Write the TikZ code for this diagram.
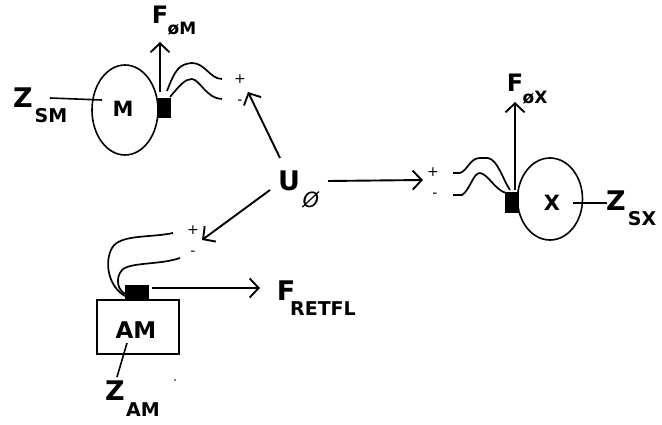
\documentclass[tikz,border=0pt]{standalone}
\usepackage{fontspec}
\setmainfont{DejaVu Sans}
\usetikzlibrary{arrows.meta,shapes.geometric}
\begin{document}
\begin{tikzpicture}[x=1pt,y=-1pt,line width=1.9pt,
  big/.style={inner sep=0pt,font=\bfseries\fontsize{27}{27}\selectfont},
  mid/.style={inner sep=0pt,font=\bfseries\fontsize{21}{21}\selectfont},
  sub/.style={inner sep=0pt,font=\bfseries\fontsize{19}{19}\selectfont},
  pm/.style={inner sep=0pt,font=\fontsize{14}{14}\selectfont},
  arr/.style={-{Straight Barb[length=9pt,width=19pt,line width=1.9pt]}},
  wire/.style={line width=1.7pt},
  blk/.style={fill=black,draw=black,line width=0.5pt,inner sep=0pt},
  body/.style={draw,line width=1.6pt,ellipse,inner sep=0pt}]
\useasboundingbox (0,0) rectangle (662,425);

% ---------- motor M ----------
\node[body,minimum width=66pt,minimum height=90pt] (Mell) at (125,110) {};
\node[mid] (Mlab) at (123,109) {M};
\node[big] (Zsm) at (23,98) {Z};
\node[sub] (Zsmsub) at (51,116) {SM};
\coordinate (zsmA) at (50,98);
\coordinate (zsmB) at (102,100);
\draw[line width=1.6pt] (zsmA) -- (zsmB);
\node[blk,minimum width=12pt,minimum height=19pt] (bM) at (164,107.5) {};
\coordinate (fmA) at (160,92);
\coordinate (fmB) at (160,42);
\draw[arr] (fmA) -- (fmB);
\node[mid,font=\bfseries\fontsize{24}{24}\selectfont] (Fm) at (160,15) {F};
\node[sub,font=\bfseries\fontsize{17}{17}\selectfont] (Fmsub) at (182,29) {øM};
\draw[wire] (167,91) .. controls (175,70) and (179,64) .. (192,63)
  .. controls (205,63) and (210,79) .. (222,79);
\draw[wire] (170,97) .. controls (180,85) and (185,79) .. (192,79)
  .. controls (200,80) and (207,99) .. (222,99);
\node[pm] (pM) at (240,79) {+};
\node[pm] (mM) at (240,102) {-};

% ---------- source U ----------
\node[big] (U) at (289,181) {U};
\node[inner sep=0pt,font=\itshape\fontsize{21}{21}\selectfont] (Usub) at (311,200) {Ø};
\coordinate (uM) at (280,158);
\coordinate (uMt) at (248,92);
\draw[arr] (uM) -- (uMt);
\coordinate (uX) at (328,181);
\coordinate (uXt) at (423,180);
\draw[arr] (uX) -- (uXt);
\coordinate (uA) at (270,190);
\coordinate (uAt) at (202,240);
\draw[arr] (uA) -- (uAt);

% ---------- X ----------
\node[pm] (pX) at (433,172) {+};
\node[pm] (mX) at (435,195) {-};
\draw[wire] (453,173) -- (460,173) .. controls (468,170) and (470,158) .. (480,158)
  -- (488,158) .. controls (498,160) and (503,180) .. (510,190);
\draw[wire] (453,195) -- (462,195) .. controls (470,190) and (473,173) .. (480,173)
  .. controls (488,174) and (495,190) .. (506,193);
\node[blk,minimum width=13pt,minimum height=20pt] (bX) at (511.5,202) {};
\coordinate (fxA) at (515,190);
\coordinate (fxB) at (515,102);
\draw[arr] (fxA) -- (fxB);
\node[mid,font=\bfseries\fontsize{24}{24}\selectfont] (Fx) at (515,83) {F};
\node[sub,font=\bfseries\fontsize{17}{17}\selectfont] (Fxsub) at (535,98) {øX};
\node[body,minimum width=65pt,minimum height=82pt] (Xell) at (550,199) {};
\node[mid] (Xlab) at (552,203) {X};
\coordinate (zsxA) at (573,203);
\coordinate (zsxB) at (607,203);
\draw[line width=1.6pt] (zsxA) -- (zsxB);
\node[big] (Zsx) at (616,201) {Z};
\node[sub] (Zsxsub) at (642,219) {SX};

% ---------- AM ----------
\node[pm] (pA) at (193,230) {+};
\node[pm] (mA) at (193,253) {-};
\draw[wire] (173,233) .. controls (150,238) and (120,234) .. (112,248)
  .. controls (104,262) and (108,288) .. (127,297);
\draw[wire] (180,258) .. controls (160,265) and (130,262) .. (122,270)
  .. controls (115,278) and (117,292) .. (128,295);
\node[draw,line width=1.6pt,minimum width=82pt,minimum height=54pt,inner sep=0pt] (AM) at (138,327) {};
\node[blk,minimum width=23pt,minimum height=13pt] (bA) at (136.5,291.5) {};
\node[mid,font=\bfseries\fontsize{23}{23}\selectfont] (AMlab) at (136,330) {AM};
\coordinate (frA) at (152,288);
\coordinate (frB) at (260,288);
\draw[arr] (frA) -- (frB);
\node[big] (Fr) at (286,291) {F};
\node[sub] (Frsub) at (323,309) {RETFL};
\coordinate (zamA) at (127,343);
\coordinate (zamB) at (117,377);
\draw[line width=1.6pt] (zamA) -- (zamB);
\node[big] (Zam) at (115,391) {Z};
\node[sub] (Zamsub) at (143,410) {AM};
\fill (175,380) circle (0.8pt);
\end{tikzpicture}
\end{document}
